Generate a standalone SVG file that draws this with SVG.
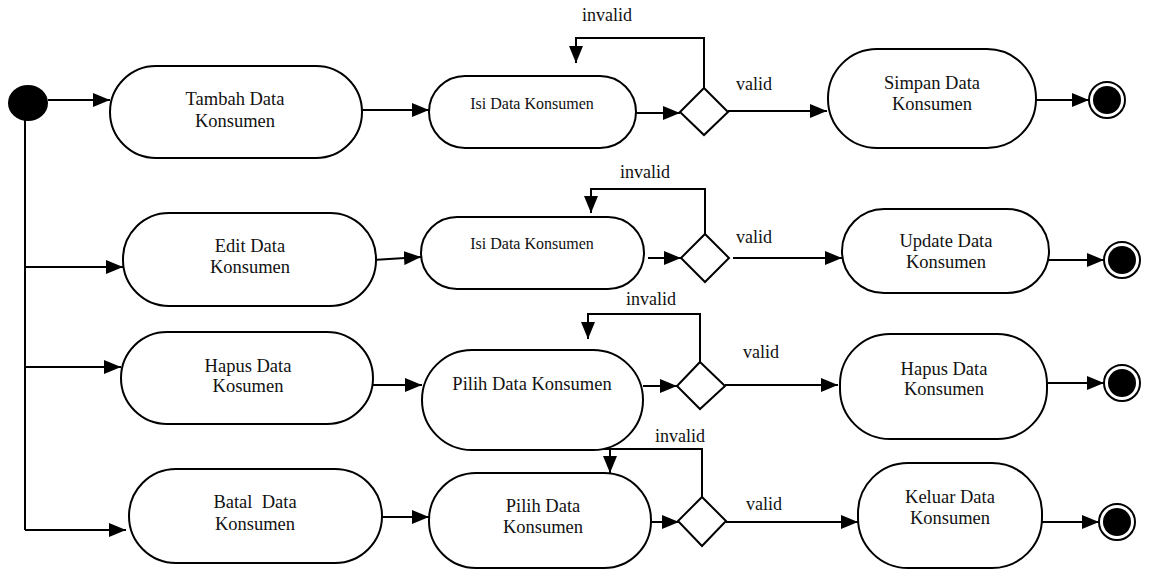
<svg xmlns="http://www.w3.org/2000/svg" width="1150" height="571" viewBox="0 0 1150 571">
<style>
.act{fill:#fff;stroke:#000;stroke-width:2}
.dec{fill:#fff;stroke:#000;stroke-width:2}
.t{font-family:"Liberation Serif","Times New Roman",serif;font-size:18.5px;fill:#111;text-anchor:middle}
.ts{font-family:"Liberation Serif","Times New Roman",serif;font-size:16px;fill:#111;text-anchor:middle}
.lb{font-family:"Liberation Serif","Times New Roman",serif;font-size:18px;fill:#111;text-anchor:middle}
.c{fill:none;stroke:#000;stroke-width:2}
.ca{fill:none;stroke:#000;stroke-width:2;marker-end:url(#ah)}
</style>
<defs>
<marker id="ah" markerUnits="userSpaceOnUse" viewBox="0 0 17 14" refX="17" refY="7" markerWidth="17" markerHeight="14" orient="auto">
<path d="M0,0 L17,7 L0,14 z" fill="#000"/>
</marker>
</defs>
<rect width="1150" height="571" fill="#fff"/>

<g id="connectors">
<path class="ca" d="M48,100 H110"/>
<path class="c" d="M25,120 V530"/>
<path class="ca" d="M25,267 H123"/>
<path class="ca" d="M25,367 H121"/>
<path class="ca" d="M25,530 H126"/>
<!-- row 1 -->
<path class="ca" d="M362,110 H429"/>
<path class="ca" d="M636,113 H680"/>
<path class="ca" d="M704,88 V38 H576 V63"/>
<path class="ca" d="M728,111 H827"/>
<path class="ca" d="M1033,100 H1089"/>
<!-- row 2 -->
<path class="ca" d="M373,260 L421,257"/>
<path class="ca" d="M648,258 H681"/>
<path class="ca" d="M705,234 V189 H591 V213"/>
<path class="ca" d="M733,258 H842"/>
<path class="ca" d="M1049,260 H1104"/>
<!-- row 3 -->
<path class="ca" d="M373,385 H422"/>
<path class="ca" d="M643,386 H677"/>
<path class="ca" d="M700,362 V314 H588 V339"/>
<path class="ca" d="M725,385 H838"/>
<path class="ca" d="M1047,383 H1104"/>
<!-- row 4 -->
<path class="ca" d="M382,517 H429"/>
<path class="ca" d="M648,522 H679"/>
<path class="c" d="M702,497 V449 H600"/>
<path class="ca" d="M610,449 V473"/>
<path class="ca" d="M726,522 H858"/>
<path class="ca" d="M1042,522 H1099"/>
</g>

<g id="labels">
<text class="lb" x="607" y="21">invalid</text>
<text class="lb" x="754" y="90">valid</text>
<text class="lb" x="645" y="178">invalid</text>
<text class="lb" x="754" y="243">valid</text>
<text class="lb" x="651" y="305">invalid</text>
<text class="lb" x="761" y="358">valid</text>
<text class="lb" x="680" y="442">invalid</text>
<text class="lb" x="764" y="510">valid</text>
</g>

<g id="start"><ellipse cx="28" cy="103" rx="20" ry="18" fill="#000"/></g>

<g id="tambah">
<rect class="act" x="110" y="66" width="252" height="92" rx="46" ry="46"/>
<text class="t" x="235" y="105">Tambah Data</text>
<text class="t" x="235" y="127">Konsumen</text>
</g>
<g id="isi1">
<rect class="act" x="429" y="76" width="207" height="72" rx="36" ry="36"/>
<text class="ts" x="532" y="109">Isi Data Konsumen</text>
</g>
<g id="dec1"><path class="dec" d="M704,88 L728,112 L704,135 L680,112 z"/></g>
<g id="simpan">
<rect class="act" x="828" y="49" width="208" height="99" rx="49" ry="49"/>
<text class="t" x="932" y="89">Simpan Data</text>
<text class="t" x="932" y="110">Konsumen</text>
</g>
<g id="end1"><circle cx="1107" cy="100" r="18" fill="#fff" stroke="#000" stroke-width="2"/><circle cx="1107" cy="100" r="14" fill="#000"/></g>

<g id="edit">
<rect class="act" x="123" y="213" width="253" height="93" rx="46" ry="46"/>
<text class="t" x="250" y="252">Edit Data</text>
<text class="t" x="250" y="273">Konsumen</text>
</g>
<g id="isi2">
<rect class="act" x="421" y="217" width="223" height="72" rx="36" ry="36"/>
<text class="ts" x="532" y="249">Isi Data Konsumen</text>
</g>
<g id="dec2"><path class="dec" d="M705,234 L729,258 L705,282 L681,258 z"/></g>
<g id="update">
<rect class="act" x="842" y="209" width="207" height="84" rx="42" ry="42"/>
<text class="t" x="946" y="247">Update Data</text>
<text class="t" x="946" y="268">Konsumen</text>
</g>
<g id="end2"><circle cx="1122" cy="260" r="18" fill="#fff" stroke="#000" stroke-width="2"/><circle cx="1122" cy="260" r="14" fill="#000"/></g>

<g id="hapus">
<rect class="act" x="121" y="332" width="252" height="92" rx="46" ry="46"/>
<text class="t" x="248" y="372">Hapus Data</text>
<text class="t" x="248" y="392">Kosumen</text>
</g>
<g id="pilih1">
<rect class="act" x="422" y="350" width="221" height="100" rx="50" ry="50"/>
<text class="t" x="532" y="390">Pilih Data Konsumen</text>
</g>
<g id="dec3"><path class="dec" d="M700,362 L725,386 L700,409 L677,386 z"/></g>
<g id="hapus2">
<rect class="act" x="840" y="334" width="207" height="105" rx="50" ry="50"/>
<text class="t" x="944" y="375">Hapus Data</text>
<text class="t" x="944" y="395">Konsumen</text>
</g>
<g id="end3"><circle cx="1122" cy="383" r="18" fill="#fff" stroke="#000" stroke-width="2"/><circle cx="1122" cy="383" r="14" fill="#000"/></g>

<g id="batal">
<rect class="act" x="129" y="469" width="253" height="94" rx="47" ry="47"/>
<text class="t" x="255" y="508" xml:space="preserve">Batal  Data</text>
<text class="t" x="255" y="530">Konsumen</text>
</g>
<g id="pilih2">
<rect class="act" x="429" y="473" width="222" height="95" rx="47" ry="47"/>
<text class="t" x="543" y="512">Pilih Data</text>
<text class="t" x="543" y="533">Konsumen</text>
</g>
<g id="dec4"><path class="dec" d="M702,497 L726,521 L702,546 L678,521 z"/></g>
<g id="keluar">
<rect class="act" x="858" y="463" width="184" height="105" rx="50" ry="50"/>
<text class="t" x="950" y="503">Keluar Data</text>
<text class="t" x="950" y="524">Konsumen</text>
</g>
<g id="end4"><circle cx="1117" cy="522" r="18" fill="#fff" stroke="#000" stroke-width="2"/><circle cx="1117" cy="522" r="14" fill="#000"/></g>
</svg>
